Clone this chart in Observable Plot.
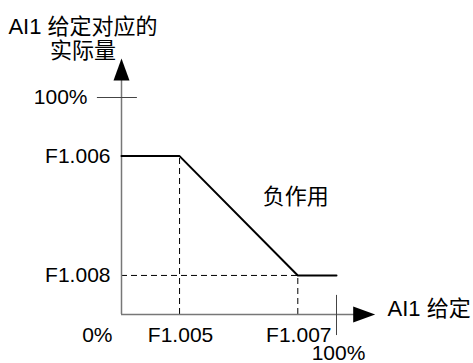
<!DOCTYPE html>
<html>
<head>
<meta charset="utf-8">
<script src="https://cdn.jsdelivr.net/npm/d3@7"></script>
<script src="https://cdn.jsdelivr.net/npm/@observablehq/plot@0.6"></script>
<style>
  html, body { margin: 0; padding: 0; background: #fff; }
  svg { display: block; }
</style>
</head>
<body>
<div id="chart"></div>
<script>
// Data (percent of full scale)
const curveX = [0, 27, 82, 100];
const curveY = [73, 73, 18, 18];
const breakX = [27, 82];          // F1.005, F1.007
const breakY = [73, 18];          // F1.006, F1.008
const xTickLabels = ["F1.005", "F1.007"];
const yTickLabels = ["F1.006", "F1.008"];
const axisEnd = 118;              // arrow tip in percent
const yTitle = "AI1 给定对应的\n实际量";
const xTitle = "AI1 给定";
const curveLabel = "负作用";

const curve = curveX.map((x, i) => ({x, y: curveY[i]}));
const font = "'Liberation Sans', Arial, 'Noto Sans CJK SC', sans-serif";

const arrowHead = {
  draw(ctx) {
    ctx.moveTo(0, 0);
    ctx.lineTo(-8, 22);
    ctx.lineTo(8, 22);
    ctx.closePath();
  }
};

const chart = Plot.plot({
  width: 473,
  height: 363,
  marginLeft: 121,
  marginRight: 137,
  marginTop: 97,
  marginBottom: 49,
  x: {domain: [0, 100], axis: null},
  y: {domain: [0, 100], axis: null},
  style: {fontFamily: font, fontSize: "21px", color: "#000", background: "#fff"},
  marks: [
    // dashed guides
    Plot.ruleX(breakX, {x: d => d, y1: 0, y2: (d, i) => breakY[i], stroke: "#000", strokeWidth: 1, strokeDasharray: "6,4"}),
    Plot.ruleY([breakY[1]], {y: d => d, x1: 0, x2: breakX[1], stroke: "#000", strokeWidth: 1, strokeDasharray: "6,4"}),
    // axes
    Plot.ruleX([0], {y1: 0, y2: axisEnd - 8, stroke: "#777", strokeWidth: 1.5}),
    Plot.ruleY([0], {x1: 0, x2: axisEnd - 8, stroke: "#777", strokeWidth: 1.5}),
    // 100% ticks
    Plot.ruleY([100], {x1: -11.2, x2: 7.4, stroke: "#444", strokeWidth: 1}),
    Plot.ruleX([100], {y1: -9.7, y2: 8.8, stroke: "#444", strokeWidth: 1}),
    // arrow heads
    Plot.dot([{x: 0, y: axisEnd}], {x: "x", y: "y", symbol: arrowHead, fill: "#000", stroke: null, r: 8}),
    Plot.dot([{x: axisEnd, y: 0}], {x: "x", y: "y", symbol: arrowHead, fill: "#000", stroke: null, r: 8, rotate: 90}),
    // curve
    Plot.line(curve, {x: "x", y: "y", stroke: "#000", strokeWidth: 2}),
    // y tick labels
    Plot.text(yTickLabels, {x: 0, y: (d, i) => breakY[i], text: d => d, textAnchor: "end", dx: -11, fill: "#000"}),
    Plot.text(["100%"], {x: 0, y: 100, text: d => d, textAnchor: "end", dx: -34, fill: "#000"}),
    // x tick labels
    Plot.text(xTickLabels, {x: (d, i) => breakX[i], y: 0, text: d => d, dy: 21, dx: 1, fill: "#000"}),
    Plot.text(["0%"], {x: 0, y: 0, text: d => d, textAnchor: "end", dx: -9, dy: 21, fill: "#000"}),
    Plot.text(["100%"], {x: 100, y: 0, text: d => d, dx: 2, dy: 39, fill: "#000"}),
    // titles
    Plot.text([xTitle], {x: 100, y: 0, text: d => d, textAnchor: "start", dx: 51, dy: -6, fill: "#000", fontSize: 22}),
    Plot.text([yTitle], {x: 0, y: axisEnd, text: d => d, dx: -38.5, dy: -20, lineHeight: 1.1, fill: "#000", fontSize: 22}),
    Plot.text([curveLabel], {x: 81, y: 54, text: d => d, fill: "#000", fontSize: 22})
  ]
});
document.getElementById("chart").appendChild(chart);
</script>
</body>
</html>
